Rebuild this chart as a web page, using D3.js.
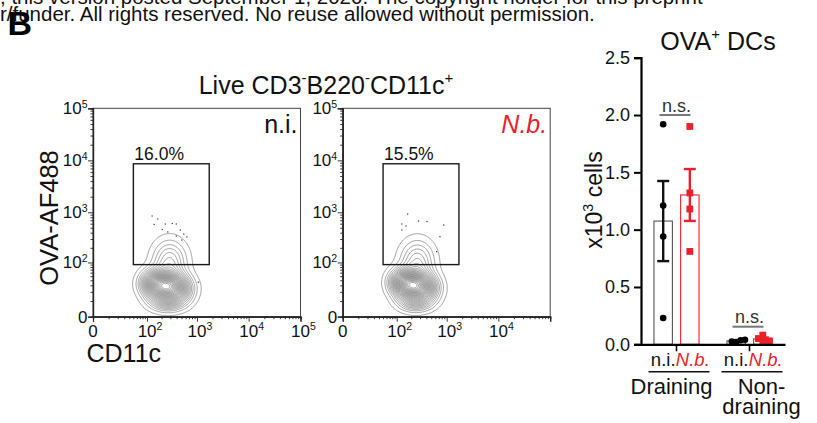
<!DOCTYPE html>
<html>
<head>
<meta charset="utf-8">
<script src="https://cdn.jsdelivr.net/npm/d3@7"></script>
<style>
  html, body { margin: 0; padding: 0; background: #fff; }
  svg { display: block; font-family: "Liberation Sans", Arial, Helvetica, sans-serif; }
</style>
</head>
<body>
<svg id="fig" width="817" height="423"></svg>
<script>
// ---------------- data ----------------
// flow cytometry panels (CD11c vs OVA-AF488), gated on live CD3- B220- CD11c+
const flowPanels = ["n.i.", "N.b."];
const gatePercent = ["16.0%", "15.5%"];
const gateCD11c = [50, 1730];
const gateOVA = [90, 8600];
const flowTicks = [0, 100, 1000, 10000, 100000];
const flowTickExp = [null, "2", "3", "4", "5"];

// event density, as a few smooth blobs: CD11c centre, OVA centre,
// spread in decades (x, y) and relative weight
const densityNI = [
  { cd11c: 220, ova: 29, sx: 0.21, sy: 0.17, w: 1.0 },
  { cd11c: 430, ova: 24, sx: 0.19, sy: 0.17, w: 0.42 },
  { cd11c: 120, ova: 36, sx: 0.15, sy: 0.15, w: 0.22 },
  { cd11c: 260, ova: 9, sx: 0.22, sy: 0.12, w: 0.25 },
  { cd11c: 290, ova: 105, sx: 0.21, sy: 0.26, w: 0.26 }
];
const densityNB = [
  { cd11c: 205, ova: 30, sx: 0.20, sy: 0.17, w: 1.0 },
  { cd11c: 390, ova: 25, sx: 0.18, sy: 0.17, w: 0.38 },
  { cd11c: 115, ova: 38, sx: 0.15, sy: 0.15, w: 0.25 },
  { cd11c: 240, ova: 9, sx: 0.21, sy: 0.12, w: 0.25 },
  { cd11c: 265, ova: 105, sx: 0.21, sy: 0.26, w: 0.25 }
];
// sparse events drawn as dots
const eventsNI = [
  [128, 847], [167, 740], [141, 579], [237, 591], [327, 605], [393, 591],
  [206, 462], [266, 413], [472, 451], [552, 376], [634, 329], [393, 344],
  [505, 286], [1064, 36]
];
const eventsNB = [
  [169, 926], [128, 591], [156, 541], [280, 677], [412, 661], [873, 565],
  [128, 451], [740, 334], [637, 167]
];

// OVA+ DC counts (x10^3 cells), one value per mouse
const groups = ["Draining", "Non-draining"];
const conditions = ["n.i.", "N.b."];
const niDraining = [1.92, 1.21, 0.94, 0.23];
const nbDraining = [1.90, 1.32, 1.18, 0.81];
const niNonDraining = [0.02, 0.035, 0.025, 0.04];
const nbNonDraining = [0.03, 0.08, 0.03, 0.05];
const countTicks = [0.0, 0.5, 1.0, 1.5, 2.0, 2.5];
const significance = ["n.s.", "n.s."];

// ---------------- styles ----------------
const RED = "#e8222a";
const svg = d3.select("#fig");

// header lines of the page
svg.append("text").attr("x", 0).attr("y", 4)
  .attr("font-size", 20.5).attr("fill", "#111")
  .text(", this version posted September 1, 2020. The copyright holder for this preprint");
svg.append("text").attr("x", 0).attr("y", 21)
  .attr("font-size", 20.5).attr("fill", "#111")
  .text("r/funder. All rights reserved. No reuse allowed without permission.");
svg.append("text").attr("x", 7.5).attr("y", 35)
  .attr("font-size", 34).attr("font-weight", "bold").attr("fill", "#000")
  .text("B");

// ---------------- flow panels ----------------
const tr = v => Math.sign(v) * Math.log1p(Math.abs(v) / 10) / Math.LN10;

const panelX = [[93, 300.5], [342.7, 550.2]];
const panelY = [316.7, 108.3];

function minorTicks() {
  const out = [];
  for (let d = 10; d <= 90; d += 10) out.push(d);
  [100, 1000, 10000].forEach(b => { for (let k = 2; k <= 9; k++) out.push(b * k); });
  return out;
}

function supLabel(sel, base, exp) {
  sel.text(null);
  sel.append("tspan").text(base);
  if (exp) sel.append("tspan").attr("font-size", "0.62em").attr("dy", "-0.62em").text(exp);
}

function drawFlow(p, comps, events) {
  const [x0, x1] = panelX[p];
  const x = d3.scaleSymlog().constant(10).domain([0, 1e5]).range([x0, x1]);
  const y = d3.scaleSymlog().constant(10).domain([0, 1e5]).range(panelY);
  const g = svg.append("g");

  // density grid on the pixel lattice
  const n = Math.round(x1 - x0), m = Math.round(panelY[0] - panelY[1]);
  const vals = new Float64Array(n * m);
  for (let j = 0; j < m; j++) {
    const ty = tr(y.invert(panelY[1] + j + 0.5));
    for (let i = 0; i < n; i++) {
      const tx = tr(x.invert(x0 + i + 0.5));
      let s = 0;
      for (const c of comps) {
        const dx = (tx - tr(c.cd11c)) / c.sx, dy = (ty - tr(c.ova)) / c.sy;
        s += c.w * Math.exp(-0.5 * (dx * dx + dy * dy));
      }
      vals[j * n + i] = s;
    }
  }
  const vmax = d3.max(vals);
  const levels = d3.range(27).map(k => vmax * (0.025 + k * 0.036));
  const contours = d3.contours().size([n, m]).thresholds(levels)(vals);
  g.append("g").attr("transform", `translate(${x0},${panelY[1]})`)
    .selectAll("path").data(contours).join("path")
    .attr("d", d3.geoPath())
    .attr("fill", "none").attr("stroke", "#666").attr("stroke-width", 0.6);

  // sparse events
  g.append("g").selectAll("rect").data(events).join("rect")
    .attr("x", d => x(d[0]) - 0.6).attr("y", d => y(d[1]) - 0.6)
    .attr("width", 1.2).attr("height", 1.2).attr("fill", "#333");

  // gate
  g.append("rect")
    .attr("x", x(gateCD11c[0])).attr("y", y(gateOVA[1]))
    .attr("width", x(gateCD11c[1]) - x(gateCD11c[0]))
    .attr("height", y(gateOVA[0]) - y(gateOVA[1]))
    .attr("fill", "none").attr("stroke", "#1a1a1a").attr("stroke-width", 1.4);
  g.append("text").attr("x", x(gateCD11c[0]) + 1).attr("y", y(gateOVA[1]) - 3.5)
    .attr("font-size", 17.5).attr("fill", "#111").text(gatePercent[p]);

  // frame
  g.append("rect").attr("x", x0).attr("y", panelY[1])
    .attr("width", x1 - x0).attr("height", panelY[0] - panelY[1])
    .attr("fill", "none").attr("stroke", "#444").attr("stroke-width", 1);

  // axes
  const xAxis = d3.axisBottom(x).tickValues(flowTicks).tickSize(5).tickFormat("");
  const yAxis = d3.axisLeft(y).tickValues(flowTicks).tickSize(5).tickFormat("");
  const ax = g.append("g").attr("transform", `translate(0,${panelY[0]})`).call(xAxis);
  ax.append("g").call(d3.axisBottom(x).tickValues(minorTicks()).tickSize(2.5).tickFormat(""));
  const ay = g.append("g").attr("transform", `translate(${x0},0)`).call(yAxis);
  ay.append("g").call(d3.axisLeft(y).tickValues(minorTicks()).tickSize(2.5).tickFormat(""));
  [ax, ay].forEach(a => {
    a.selectAll(".domain").attr("stroke", "#222").attr("stroke-width", 1.2);
    a.selectAll("line").attr("stroke", "#222").attr("stroke-width", 0.9);
  });

  const xShown = p === 0 ? flowTicks : flowTicks.slice(0, 4);
  xShown.forEach(t => {
    const k = flowTicks.indexOf(t);
    g.append("text").attr("x", x(t) + (k ? 3 : 0)).attr("y", panelY[0] + 20)
      .attr("text-anchor", "middle").attr("font-size", 17).attr("fill", "#111")
      .call(s => supLabel(s, k ? "10" : "0", flowTickExp[k]));
  });
  flowTicks.forEach((t, k) => {
    g.append("text").attr("x", x0 - 5.5).attr("y", y(t) + 6)
      .attr("text-anchor", "end").attr("font-size", 17).attr("fill", "#111")
      .call(s => supLabel(s, k ? "10" : "0", flowTickExp[k]));
  });

  // condition name
  g.append("text").attr("x", x1 - 3).attr("y", 132.7).attr("text-anchor", "end")
    .attr("font-size", 25)
    .attr("fill", p === 0 ? "#111" : RED)
    .attr("font-style", p === 0 ? "normal" : "italic")
    .text(flowPanels[p]);
}

drawFlow(0, densityNI, eventsNI);
drawFlow(1, densityNB, eventsNB);

// flow titles and axis names
const ttl = svg.append("text").attr("x", 326).attr("y", 93.5).attr("text-anchor", "middle")
  .attr("font-size", 25).attr("fill", "#111");
[["Live CD3", null], ["-", "s"], ["B220", null], ["-", "s"], ["CD11c", null], ["+", "s"]]
  .forEach(([t, s], i, arr) => {
    const ts = ttl.append("tspan").text(t);
    if (s) ts.attr("font-size", "0.6em").attr("dy", "-0.7em");
    else if (i > 0 && arr[i - 1][1]) ts.attr("dy", "0.42em");
  });
svg.append("text").attr("transform", "translate(57.5,218) rotate(-90)")
  .attr("text-anchor", "middle").attr("font-size", 25.5).attr("fill", "#111")
  .text("OVA-AF488");
svg.append("text").attr("x", 86.5).attr("y", 361.7)
  .attr("font-size", 25).attr("fill", "#111").text("CD11c");

// ---------------- bar chart ----------------
const by = d3.scaleLinear().domain([0, 2.5]).range([344.3, 57.7]);
const bx = d3.scaleBand().domain(groups).range([641, 785]).paddingInner(0.2).paddingOuter(0.0865);
const sub = d3.scaleBand().domain(conditions).range([0, bx.bandwidth()]).paddingInner(0.308).paddingOuter(0.25);

const series = [
  { group: groups[0], cond: conditions[0], vals: niDraining },
  { group: groups[0], cond: conditions[1], vals: nbDraining },
  { group: groups[1], cond: conditions[0], vals: niNonDraining },
  { group: groups[1], cond: conditions[1], vals: nbNonDraining }
];
series.forEach(s => {
  s.mean = d3.mean(s.vals);
  s.sem = d3.deviation(s.vals) / Math.sqrt(s.vals.length);
  s.cx = bx(s.group) + sub(s.cond) + sub.bandwidth() / 2;
  s.color = s.cond === conditions[0] ? "#111" : RED;
  s.barStroke = s.cond === conditions[0] ? "#555" : RED;
});

const bc = svg.append("g");
// bars
bc.selectAll("rect.bar").data(series).join("rect").attr("class", "bar")
  .attr("x", d => d.cx - sub.bandwidth() / 2).attr("width", sub.bandwidth())
  .attr("y", d => by(d.mean)).attr("height", d => by(0) - by(d.mean))
  .attr("fill", "#fff").attr("stroke", d => d.barStroke).attr("stroke-width", 1.1);

// error bars (mean +/- SEM)
series.forEach(s => {
  const e = bc.append("g").attr("stroke", s.color).attr("stroke-width", 2.4).attr("fill", "none");
  e.append("line").attr("x1", s.cx).attr("x2", s.cx).attr("y1", by(s.mean - s.sem)).attr("y2", by(s.mean + s.sem));
  [s.mean - s.sem, s.mean + s.sem].forEach(v =>
    e.append("line").attr("x1", s.cx - 6).attr("x2", s.cx + 6).attr("y1", by(v)).attr("y2", by(v)));
});

// individual mice, dodged when they overlap
function swarm(vals, cx) {
  const placed = [];
  return vals.map(v => {
    const yy = by(v);
    for (let k = 0; k < 30; k++) {
      const off = (k % 2 ? 1 : -1) * Math.ceil(k / 2) * 2.2;
      const xx = cx + off;
      if (placed.every(q => Math.hypot(q[0] - xx, q[1] - yy) >= 4.4)) {
        placed.push([xx, yy]);
        return [xx, yy];
      }
    }
    return [cx, yy];
  });
}
series.forEach(s => {
  const pts = swarm(s.vals, s.cx);
  if (s.cond === conditions[0]) {
    bc.append("g").selectAll("circle").data(pts).join("circle")
      .attr("cx", d => d[0]).attr("cy", d => d[1]).attr("r", 3.3).attr("fill", "#000");
  } else {
    bc.append("g").selectAll("rect").data(pts).join("rect")
      .attr("x", d => d[0] - 3.4).attr("y", d => d[1] - 3.4)
      .attr("width", 6.8).attr("height", 6.8).attr("fill", RED);
  }
});

// axes
const byAxis = bc.append("g").attr("transform", "translate(641,0)")
  .call(d3.axisLeft(by).tickValues(countTicks).tickSize(7).tickFormat(d3.format(".1f")));
byAxis.selectAll(".domain").attr("stroke", "#000").attr("stroke-width", 2.2);
byAxis.selectAll("line").attr("stroke", "#000").attr("stroke-width", 2);
byAxis.selectAll("text").attr("font-size", 18).attr("fill", "#111")
  .attr("font-family", "'Liberation Sans', Arial, sans-serif").attr("dx", "-1");

const bxAxis = bc.append("g").attr("transform", `translate(0,${by(0)})`)
  .call(d3.axisBottom(bx).tickSize(7).tickSizeOuter(0).tickFormat(""));
bxAxis.selectAll(".domain").attr("stroke", "#000").attr("stroke-width", 2.2);
bxAxis.selectAll("line").attr("stroke", "#000").attr("stroke-width", 1.6);

// significance marks
const sigY = [by(2.0), by(0) - 17.6];
groups.forEach((gname, i) => {
  const c = bx(gname) + bx.bandwidth() / 2;
  bc.append("text").attr("x", c).attr("y", sigY[i] - 3.4).attr("text-anchor", "middle")
    .attr("font-size", 18).attr("fill", "#333").text(significance[i]);
  bc.append("line").attr("x1", c - 17).attr("x2", c + 14).attr("y1", sigY[i]).attr("y2", sigY[i])
    .attr("stroke", "#777").attr("stroke-width", 2);
});

// category labels
groups.forEach((gname, i) => {
  conditions.forEach((cname, j) => {
    const cx = bx(gname) + sub(cname) + sub.bandwidth() / 2;
    bc.append("text").attr("x", cx + (j ? 3 : 0)).attr("y", 365.7).attr("text-anchor", "middle")
      .attr("font-size", 18.5)
      .attr("fill", j ? RED : "#111").attr("font-style", j ? "italic" : "normal")
      .text(cname);
  });
  const c = bx(gname) + bx.bandwidth() / 2;
  bc.append("line").attr("x1", c - 28).attr("x2", c + 33).attr("y1", 371.7).attr("y2", 371.7)
    .attr("stroke", "#111").attr("stroke-width", 1.4);
  const parts = gname === "Non-draining" ? ["Non-", "draining"] : [gname];
  parts.forEach((t, k) => {
    bc.append("text").attr("x", c + (i ? 12 : -5)).attr("y", 394.3 + k * 19.5)
      .attr("text-anchor", "middle").attr("font-size", 22).attr("fill", "#111").text(t);
  });
});

// title and y label
const bt = svg.append("text").attr("x", 718).attr("y", 49.5).attr("text-anchor", "middle")
  .attr("font-size", 25).attr("fill", "#111");
bt.append("tspan").text("OVA");
bt.append("tspan").attr("font-size", "0.6em").attr("dy", "-0.7em").text("+");
bt.append("tspan").attr("dy", "0.42em").text(" DCs");

const yl = svg.append("text").attr("transform", "translate(602,200) rotate(-90)")
  .attr("text-anchor", "middle").attr("font-size", 23).attr("fill", "#111");
yl.append("tspan").text("x10");
yl.append("tspan").attr("font-size", "0.62em").attr("dy", "-0.65em").text("3");
yl.append("tspan").attr("dy", "0.4em").text(" cells");
</script>
</body>
</html>
